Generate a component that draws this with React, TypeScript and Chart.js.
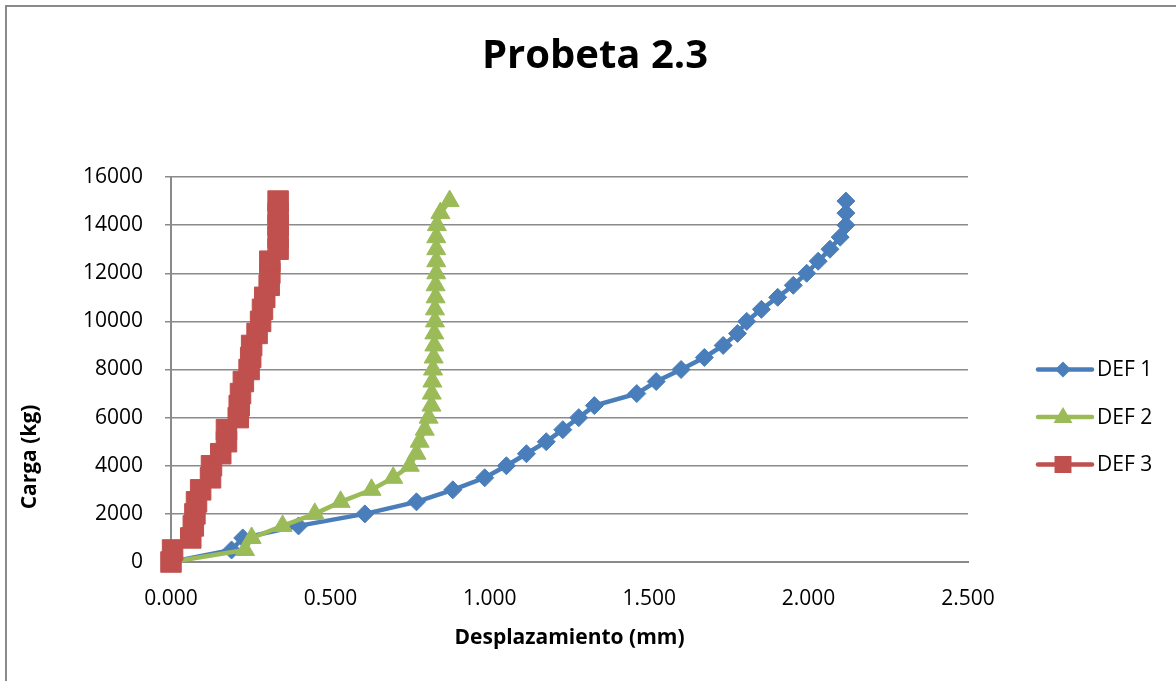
import React, { useEffect, useRef } from "react";
import { Chart, registerables } from "chart.js";

Chart.register(...registerables);

const loads = [0, 500, 1000, 1500, 2000, 2500, 3000, 3500, 4000, 4500, 5000, 5500, 6000, 6500, 7000, 7500, 8000, 8500, 9000, 9500, 10000, 10500, 11000, 11500, 12000, 12500, 13000, 13500, 14000, 14500, 15000];

const def1 = [0.000, 0.190, 0.225, 0.400, 0.608, 0.770, 0.884, 0.984, 1.052, 1.115, 1.177, 1.229, 1.279, 1.328, 1.461, 1.522, 1.600, 1.673, 1.732, 1.777, 1.806, 1.852, 1.903, 1.952, 1.994, 2.030, 2.067, 2.099, 2.117, 2.117, 2.117];

const def2 = [0.000, 0.232, 0.253, 0.350, 0.451, 0.532, 0.629, 0.697, 0.749, 0.770, 0.780, 0.796, 0.808, 0.817, 0.818, 0.820, 0.822, 0.824, 0.826, 0.826, 0.828, 0.828, 0.830, 0.830, 0.832, 0.832, 0.832, 0.832, 0.834, 0.845, 0.874];

const def3 = [0.000, 0.005, 0.062, 0.070, 0.075, 0.080, 0.093, 0.124, 0.127, 0.156, 0.174, 0.174, 0.211, 0.214, 0.218, 0.227, 0.245, 0.250, 0.253, 0.270, 0.281, 0.287, 0.294, 0.308, 0.310, 0.310, 0.336, 0.336, 0.336, 0.336, 0.336];

const seriesNames = ["DEF 1", "DEF 2", "DEF 3"];
const seriesColors = ["#4A7EBB", "#9BBB59", "#C0504D"];
const pointStyles = ["rectRot", "triangle", "rect"];
const pointRadii = [9, 11, 14.5];

const chartTitle = "Probeta 2.3";
const xTitle = "Desplazamiento (mm)";
const yTitle = "Carga (kg)";

const FONT = "'Open Sans', 'Liberation Sans', sans-serif";
const GRID = "#8a8a8a";

const framePlugin = {
  id: "frame",
  beforeDraw(chart: any) {
    const ctx = chart.ctx;
    ctx.save();
    ctx.fillStyle = "#ffffff";
    ctx.fillRect(0, 0, chart.width, chart.height);
    ctx.strokeStyle = GRID;
    ctx.lineWidth = 2;
    ctx.beginPath();
    ctx.moveTo(6, chart.height);
    ctx.lineTo(6, 6);
    ctx.lineTo(chart.width, 6);
    ctx.stroke();
    ctx.restore();
  },
};

function drawMarker(ctx: CanvasRenderingContext2D, style: string, r: number, x: number, y: number) {
  ctx.beginPath();
  if (style === "rectRot") {
    ctx.moveTo(x - r, y);
    ctx.lineTo(x, y - r);
    ctx.lineTo(x + r, y);
    ctx.lineTo(x, y + r);
  } else if (style === "triangle") {
    ctx.moveTo(x, y - r);
    ctx.lineTo(x + r * 0.95, y + r * 0.6);
    ctx.lineTo(x - r * 0.95, y + r * 0.6);
  } else {
    const s = r * 0.707;
    ctx.rect(x - s, y - s, 2 * s, 2 * s);
  }
  ctx.closePath();
  ctx.fill();
}

const textPlugin = {
  id: "texts",
  afterDraw(chart: any) {
    const ctx = chart.ctx;
    const area = chart.chartArea;
    ctx.save();
    // chart title
    ctx.fillStyle = "#000";
    ctx.font = `bold 40px ${FONT}`;
    ctx.textAlign = "center";
    ctx.textBaseline = "middle";
    ctx.fillText(chartTitle, 595, 57);
    // y axis title
    ctx.font = `bold 21px ${FONT}`;
    ctx.translate(30, 457);
    ctx.rotate(-Math.PI / 2);
    ctx.fillText(yTitle, 0, 0);
    ctx.restore();

    // legend
    ctx.save();
    const startY = (area.top + area.bottom) / 2;
    chart.data.datasets.forEach((ds: any, i: number) => {
      const y = startY + i * 47.5;
      const x0 = area.right + 70;
      const x1 = x0 + 54;
      ctx.strokeStyle = ds.borderColor;
      ctx.lineWidth = 4.5;
      ctx.lineCap = "round";
      ctx.beginPath();
      ctx.moveTo(x0, y);
      ctx.lineTo(x1, y);
      ctx.stroke();
      ctx.fillStyle = ds.backgroundColor;
      const r = i === 0 ? 8 : i === 1 ? 10 : 12;
      drawMarker(ctx, ds.pointStyle, r, (x0 + x1) / 2 - 2, y);
      ctx.fillStyle = "#000";
      ctx.font = `21px ${FONT}`;
      ctx.textAlign = "left";
      ctx.textBaseline = "middle";
      ctx.fillText(ds.label, x1 + 5, y + 1);
    });
    ctx.restore();
  },
};

export default function App() {
  const ref = useRef<HTMLCanvasElement | null>(null);
  useEffect(() => {
    if (!ref.current) return;
    const all = [def1, def2, def3];
    const datasets = all.map((vals, i) => ({
      label: seriesNames[i],
      data: vals.map((x, j) => ({ x, y: loads[j] })),
      borderColor: seriesColors[i],
      backgroundColor: seriesColors[i],
      pointBackgroundColor: seriesColors[i],
      pointBorderColor: seriesColors[i],
      pointBorderWidth: 1,
      borderWidth: 4.5,
      pointStyle: pointStyles[i],
      pointRadius: pointRadii[i],
      tension: 0,
      clip: false,
      order: 2 - i,
    }));
    const chart = new Chart(ref.current, {
      type: "line",
      data: { datasets },
      plugins: [framePlugin, textPlugin],
      options: {
        animation: false,
        responsive: false,
        layout: { padding: { left: 0, right: 208, top: 177, bottom: 0 } },
        plugins: {
          legend: { display: false },
          tooltip: { enabled: false },
          title: { display: false },
        },
        scales: {
          x: {
            type: "linear",
            min: 0,
            max: 2.5,
            grid: { display: false, drawTicks: false },
            border: { display: true, color: GRID, width: 2 },
            ticks: {
              stepSize: 0.5,
              padding: 24,
              color: "#000",
              font: { family: FONT, size: 21 },
              callback: (v: any) => Number(v).toFixed(3),
            },
            title: {
              display: true,
              text: xTitle,
              color: "#000",
              font: { family: FONT, size: 21, weight: "bold" },
              padding: { top: 0, bottom: 30 },
            },
            afterFit: (s: any) => {
              s.height = 119;
            },
          },
          y: {
            type: "linear",
            min: 0,
            max: 16000,
            grid: { color: GRID, lineWidth: 1.5, tickLength: 6, tickColor: GRID, drawTicks: true },
            border: { display: true, color: GRID, width: 2 },
            ticks: {
              stepSize: 2000,
              padding: 22,
              color: "#000",
              font: { family: FONT, size: 21 },
              callback: (v: any) => String(v),
            },
            afterFit: (s: any) => {
              s.width = 171;
            },
          },
        },
      } as any,
    });
    return () => chart.destroy();
  }, []);
  return (
    <div style={{ position: "absolute", left: 0, top: 0, width: 1176, height: 681, background: "#fff" }}>
      <canvas ref={ref} width={1176} height={681} style={{ width: 1176, height: 681, display: "block" }} />
    </div>
  );
}
